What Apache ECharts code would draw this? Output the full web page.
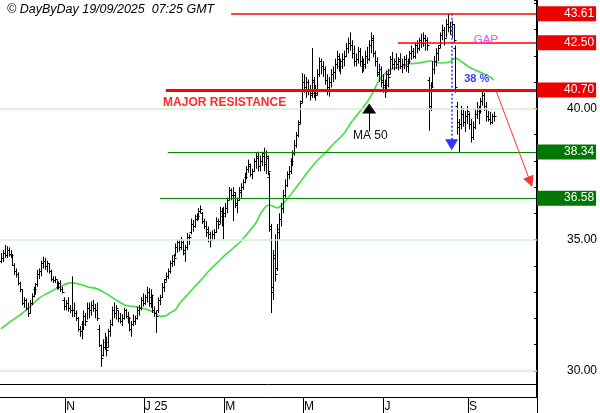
<!DOCTYPE html>
<html><head><meta charset="utf-8">
<script src="https://cdn.jsdelivr.net/npm/echarts@6/dist/echarts.min.js"></script>
<style>html,body{margin:0;padding:0;background:#fff}#c{width:600px;height:413px}</style>
</head><body><div id="c"></div>
<script>
const FONT = 'Arial, "Liberation Sans", sans-serif';
const titleText = '\u00a9 DayByDay 19/09/2025  07:25 GMT';
const startDate = '2024-09-16';
const holidays = ['2024-12-25','2024-12-26','2025-01-01','2025-04-18','2025-04-21','2025-05-01'];
const slotCount = 280;
const tickMonths = ['2024-11','2025-01','2025-03','2025-05','2025-07','2025-09'];
const tickLabels = ['N','J 25','M','M','J','S'];

const opens = [
34.2,34.3,34.5,34.4,34.6,34.45,34.4,34.05,33.8,33.7,
33.35,33.1,32.6,32.7,32.4,32.2,32.6,32.85,33.1,33.3,
33.7,33.8,34.1,34.2,34.0,34.1,33.8,33.5,33.45,33.5,
33.2,33.35,33.1,32.7,32.45,32.6,32.4,32.3,32.3,32.2,
32.0,31.6,31.5,31.8,32.1,31.9,32.4,32.3,32.5,32.4,
32.3,31.6,31.0,30.6,30.9,31.1,30.9,31.5,31.8,32.3,
32.2,32.3,32.0,31.9,32.0,32.3,32.1,32.0,31.6,31.8,
31.9,32.0,32.3,32.4,32.7,32.6,32.8,33.0,32.6,32.8,
32.3,32.2,32.3,32.7,32.8,33.2,33.5,33.6,33.8,34.1,
34.2,34.4,34.7,34.9,34.7,34.9,34.5,34.7,35.1,35.3,
35.6,35.5,35.8,35.9,36.1,36.0,35.7,35.5,35.4,35.2,
35.0,35.2,35.3,35.7,35.7,36.1,35.9,36.0,36.2,36.6,
36.9,36.7,36.7,36.3,36.5,36.8,37.0,37.2,37.4,37.7,
37.8,37.5,37.6,38.0,38.2,37.8,38.0,38.3,37.9,38.1,
37.4,35.4,33.0,34.4,33.9,35.4,35.8,36.2,36.7,37.1,
37.5,37.6,38.0,38.3,38.6,39.0,39.5,40.3,41.0,40.8,
41.0,40.7,40.6,41.1,40.6,40.6,41.3,41.8,41.6,41.5,
41.1,40.8,41.0,41.3,41.4,41.7,41.9,41.6,41.8,41.9,
42.0,42.3,42.5,42.4,42.1,41.8,41.9,42.2,41.8,41.6,
41.7,42.0,41.9,42.4,42.7,42.1,41.8,41.3,41.5,41.1,
40.9,40.8,41.3,41.3,41.9,41.7,41.8,41.7,41.9,41.6,
41.7,41.9,41.6,41.8,42.1,42.2,42.0,42.4,42.3,42.6,
42.5,42.7,42.6,41.1,40.1,40.9,41.5,41.8,42.1,42.4,
42.8,43.0,42.7,43.2,43.1,43.0,43.2,42.3,40.1,39.5,
39.4,39.8,39.5,39.7,39.8,39.4,38.9,39.3,39.8,40.0,
39.9,40.3,40.5,40.1,39.7,39.6,39.5,39.7];
const highs = [
34.5,34.6,34.8,34.75,34.7,34.6,34.45,34.1,33.9,33.75,
33.4,33.1,32.8,32.75,32.6,32.7,32.95,33.2,33.35,33.85,
33.9,34.2,34.35,34.3,34.2,34.1,33.85,33.6,33.6,33.45,
33.4,33.45,33.2,32.8,32.7,32.8,32.5,33.6,32.6,32.3,
32.05,31.7,31.9,32.3,32.2,32.6,32.6,32.65,32.7,32.55,
32.6,31.75,31.0,31.2,31.45,31.3,31.6,31.95,32.45,32.6,
32.5,32.3,32.2,32.15,32.4,32.35,32.25,32.05,31.9,32.15,
32.1,32.45,32.5,32.8,32.95,32.9,33.2,33.15,33.1,32.9,
32.45,32.3,32.8,32.9,33.35,33.5,33.75,33.9,34.2,34.4,
34.45,34.85,35.0,35.0,35.1,35.0,34.8,35.25,35.2,35.8,
35.75,35.95,36.0,36.2,36.3,36.05,35.8,35.7,35.5,35.3,
35.35,35.4,35.85,35.8,36.25,36.2,36.25,36.4,36.6,37.0,
36.95,37.0,36.8,36.6,37.0,37.15,37.3,37.55,37.8,38.05,
37.9,37.7,38.1,38.3,38.35,38.2,38.35,38.5,38.4,38.2,
37.55,35.6,34.6,35.2,35.6,36.0,36.4,36.9,37.3,37.6,
37.8,38.1,38.4,38.8,39.1,39.55,40.3,41.35,41.3,41.2,
41.1,40.9,42.3,41.2,40.9,41.5,41.95,41.9,41.8,41.6,
41.3,41.2,41.5,41.6,41.9,42.2,42.1,41.9,42.1,42.2,
42.5,42.7,42.9,42.6,42.4,42.1,42.35,42.3,42.0,41.9,
42.2,42.35,42.6,42.9,42.8,42.2,41.95,41.7,41.6,41.3,
41.1,41.45,41.5,42.0,42.15,41.9,42.1,41.95,42.1,41.9,
42.0,42.05,41.9,42.2,42.4,42.3,42.5,42.6,42.7,42.85,
42.9,42.8,42.7,41.2,41.0,41.8,42.0,42.3,42.4,42.9,
43.2,43.1,43.4,43.61,43.3,43.35,43.2,42.4,40.25,39.6,
40.1,40.0,39.9,40.1,39.85,39.6,39.5,40.0,40.25,40.1,
40.4,40.7,40.6,40.25,39.9,39.87,39.8,39.87];
const lows = [
34.1,34.15,34.3,34.3,34.35,34.3,34.0,33.65,33.55,33.25,
33.0,32.5,32.4,32.3,32.05,32.2,32.5,32.8,32.9,33.2,
33.5,33.6,33.9,33.85,33.75,33.7,33.4,33.35,33.35,33.1,
33.1,33.0,32.95,32.3,32.3,32.25,32.2,32.05,32.05,31.9,
31.5,31.3,31.2,31.55,31.7,31.95,32.0,32.1,32.25,32.0,
31.9,30.9,30.15,30.55,30.8,30.55,30.9,31.3,31.7,32.0,
31.95,31.85,31.8,31.7,31.95,32.0,31.8,31.5,31.3,31.7,
31.75,31.95,32.1,32.3,32.45,32.5,32.6,32.45,32.4,32.2,
32.05,31.45,32.2,32.5,32.8,33.0,33.4,33.5,33.7,33.95,
34.0,34.35,34.5,34.55,34.6,34.4,34.15,34.6,34.8,35.2,
35.3,35.45,35.7,35.75,36.0,35.6,35.4,35.1,34.9,34.7,
35.0,35.0,35.25,35.4,35.6,35.5,35.0,35.85,36.0,36.5,
36.5,35.7,36.2,36.0,36.5,36.6,36.9,37.15,37.3,37.55,
37.4,37.3,37.6,37.7,37.6,37.6,37.8,37.6,37.5,37.45,
35.3,32.2,32.7,33.4,33.8,35.0,35.5,36.0,36.6,37.0,
37.3,37.5,37.8,38.2,38.5,38.9,39.4,40.2,40.6,40.4,
40.5,40.3,40.4,40.4,40.3,40.5,41.2,41.3,41.2,40.9,
40.5,40.45,40.8,41.0,41.1,41.5,41.4,41.3,41.5,41.6,
41.95,42.1,42.2,41.9,41.6,41.6,41.7,41.6,41.35,41.4,
41.5,41.7,41.8,42.1,41.95,41.6,41.2,41.0,40.8,40.6,
40.4,40.6,40.8,41.3,41.5,41.45,41.5,41.45,41.5,41.35,
41.5,41.4,41.35,41.7,41.85,41.9,41.9,42.1,42.2,42.3,
42.35,42.2,42.2,39.15,39.9,40.8,41.3,41.6,41.8,42.3,
42.6,42.4,42.7,42.9,42.8,42.7,42.5,40.6,39.0,38.34,
39.2,39.3,39.1,39.4,39.2,38.7,38.8,39.2,39.6,39.4,
39.8,40.1,39.9,39.5,39.5,39.37,39.4,39.5];
const closes = [
34.3,34.5,34.4,34.6,34.45,34.4,34.05,33.8,33.7,33.35,
33.1,32.6,32.7,32.4,32.2,32.6,32.85,33.1,33.3,33.7,
33.8,34.1,34.2,34.0,34.1,33.8,33.5,33.45,33.5,33.2,
33.35,33.1,33.0,32.45,32.6,32.4,32.3,32.3,32.2,32.0,
31.6,31.5,31.8,32.1,31.9,32.4,32.3,32.5,32.4,32.3,
32.0,31.0,30.5,30.9,31.1,30.8,31.5,31.8,32.3,32.2,
32.4,32.0,31.9,32.0,32.3,32.1,32.0,31.6,31.8,31.9,
32.0,32.3,32.4,32.7,32.6,32.8,33.0,32.6,32.9,32.3,
32.2,32.1,32.7,32.8,33.2,33.4,33.6,33.8,34.1,34.2,
34.3,34.7,34.9,34.7,34.9,34.6,34.7,35.1,35.1,35.6,
35.5,35.8,35.9,36.1,36.15,35.7,35.5,35.3,35.2,35.0,
35.2,35.3,35.7,35.6,36.1,35.9,36.0,36.2,36.5,36.9,
36.7,36.8,36.4,36.5,36.9,37.0,37.2,37.4,37.7,37.9,
37.5,37.6,38.0,38.1,37.8,38.0,38.2,37.9,38.2,37.6,
35.5,33.2,34.3,33.7,35.3,35.8,36.2,36.7,37.1,37.5,
37.6,38.0,38.3,38.6,39.0,39.4,40.2,41.0,40.8,41.0,
40.7,40.5,41.0,40.6,40.5,41.3,41.8,41.6,41.5,41.1,
40.8,41.0,41.3,41.4,41.7,42.0,41.6,41.8,41.9,42.0,
42.3,42.5,42.4,42.1,41.8,41.9,42.2,41.8,41.6,41.7,
42.0,41.9,42.4,42.6,42.1,41.8,41.4,41.5,41.0,40.9,
40.9,41.3,41.2,41.9,41.7,41.8,41.7,41.8,41.6,41.7,
41.9,41.6,41.8,42.1,42.2,42.0,42.4,42.3,42.6,42.5,
42.7,42.6,42.4,40.0,40.8,41.5,41.8,42.1,42.3,42.8,
43.0,42.7,43.2,43.1,43.0,43.2,42.6,40.8,39.3,39.4,
39.8,39.5,39.7,39.9,39.4,38.9,39.3,39.8,40.0,39.9,
40.3,40.5,40.1,39.7,39.6,39.5,39.7,39.7];

const maIdx = [0,5,10,15,20,26,31,36,41,46,49,54,60,65,70,75,80,83,86,88,91,93,97,101,105,109,113,117,121,125,130,133,135,138,140,144,148,153,158,164,169,174,179,182,187,192,198,203,208,213,218,224,229,234,237,239,244,250,255,257];
const maVal = [31.6,31.88,32.13,32.44,32.77,33.02,33.2,33.35,33.3,33.18,33.15,32.98,32.7,32.5,32.44,32.36,32.22,32.08,32.1,32.2,32.33,32.55,32.88,33.2,33.52,33.85,34.13,34.42,34.67,34.93,35.37,35.64,35.94,36.25,36.32,36.21,36.44,36.9,37.39,37.94,38.3,38.69,39.05,39.4,39.87,40.36,41.16,41.47,41.58,41.7,41.73,41.81,41.73,41.77,41.92,41.85,41.58,41.38,41.2,41.09];

const levelValues = [43.61, 42.50, 40.70, 38.34, 36.58];
const levelStartIdx = [120, 207, 86, 87, 83];
const levelKinds = ['red', 'red', 'redThick', 'green', 'green'];
const gridValues = [30, 35, 40];

// categories: trading days
const categories = [];
(function(){
  const d = new Date(startDate + 'T12:00:00Z');
  while (categories.length < slotCount) {
    const dow = d.getUTCDay();
    const s = d.toISOString().slice(0, 10);
    if (dow !== 0 && dow !== 6 && holidays.indexOf(s) < 0) categories.push(s);
    d.setUTCDate(d.getUTCDate() + 1);
  }
})();
const tickIndex = {};
tickMonths.forEach((m, k) => { const i = categories.findIndex(c => c.startsWith(m)); tickIndex[i] = tickLabels[k]; });
const lastIdx = slotCount - 1;

const levelLines = levelValues.map((v, k) => {
  const red = levelKinds[k] !== 'green';
  const col = red ? '#ff0000' : '#008800';
  const box = red ? '#ee0000' : '#007700';
  const ls = { color: col, width: levelKinds[k] === 'redThick' ? 3 : (red ? 1.5 : 1.2), type: 'solid' };
  const lab = { show: true, position: 'end', distance: 1, formatter: v.toFixed(2), color: '#fff',
    backgroundColor: box, fontSize: 12, fontFamily: FONT, padding: [1, 2, 1, 27], lineHeight: 13 };
  return [
    { coord: [categories[levelStartIdx[k]], v], symbol: 'none', lineStyle: ls, label: lab },
    { coord: [categories[lastIdx], v], symbol: 'none', lineStyle: ls, label: lab }
  ];
});
const noLab = { show: false };
const gridLines = gridValues.map(v => ({ yAxis: v, symbol: 'none', lineStyle: { color: '#d2f2d2', width: 1.5, type: 'solid' }, label: noLab }));
const frameLine = { yAxis: 29.47, symbol: 'none', lineStyle: { color: '#000', width: 1, type: 'solid' }, label: noLab };

const arrowRed = [
  { coord: [categories[258], 40.70], symbol: 'none', lineStyle: { color: '#ff3333', width: 1, type: 'solid' }, label: noLab },
  { coord: [categories[276], 37.2], symbol: 'triangle', symbolSize: [11, 11], itemStyle: { color: '#ff2222' }, lineStyle: { color: '#ff3333', width: 1, type: 'solid' }, label: noLab }
];
const arrowBlue = [
  { coord: [categories[235], 43.61], symbol: 'none', lineStyle: { color: '#3333ff', width: 1.5, type: [2, 2] }, label: noLab },
  { coord: [categories[235], 38.62], symbol: 'triangle', symbolSize: [13, 11], itemStyle: { color: '#2222ff' }, lineStyle: { color: '#3333ff', width: 1.5, type: [2, 2] }, label: noLab }
];
const arrowMA = [
  { coord: [categories[192], 39.12], symbol: 'none', lineStyle: { color: '#000', width: 1, type: 'solid' }, label: noLab },
  { coord: [categories[192], 40.0], symbol: 'triangle', symbolSize: [14, 10], itemStyle: { color: '#000' }, lineStyle: { color: '#000', width: 1, type: 'solid' }, label: noLab }
];

function txt(i, v, s, color, size, weight) {
  return { coord: [categories[i], v], symbol: 'circle', symbolSize: 0, itemStyle: { color: 'transparent' },
    label: { show: true, position: 'right', distance: 1, formatter: s, color: color, fontSize: size, fontWeight: weight, fontFamily: FONT } };
}
const notes = [
  txt(84, 40.21, 'MAJOR RESISTANCE', '#ff2a2a', 12, 'bold'),
  txt(246, 42.63, 'GAP', '#ff44ff', 11.5, 'normal'),
  txt(241, 41.12, '38 %', '#3a3aff', 11, 'bold'),
  txt(183, 38.95, 'MA 50', '#111', 12, 'normal')
];

const chart = echarts.init(document.getElementById('c'), null, { renderer: 'canvas' });
chart.setOption({
  animation: false,
  backgroundColor: '#ffffff',
  title: { text: titleText, left: 2, top: -2, textStyle: { fontStyle: 'italic', fontWeight: 'normal', fontSize: 12.5, color: '#000', fontFamily: FONT } },
  grid: { left: 0, top: 0, width: 537, height: 397.25 },
  xAxis: {
    type: 'category', data: categories, boundaryGap: true,
    axisLine: { lineStyle: { color: '#000', width: 1 } },
    axisTick: { show: true, interval: (i) => (i in tickIndex), length: 16, alignWithLabel: false, lineStyle: { color: '#000' } },
    axisLabel: { interval: (i) => (i in tickIndex), formatter: (v, i) => tickIndex[i] || '', align: 'left', margin: 4, fontSize: 12, color: '#000', fontFamily: FONT },
    splitLine: { show: false }
  },
  yAxis: {
    type: 'value', position: 'right', min: 29, max: 44.133, interval: 1,
    axisLine: { show: true, lineStyle: { color: '#000', width: 2 } },
    axisTick: { show: true, inside: true, length: 3, lineStyle: { color: '#000' } },
    axisLabel: { formatter: (v) => (Math.abs(v % 5) < 1e-6 ? v.toFixed(2) : ''), align: 'right', margin: 60, fontSize: 12, color: '#000', fontFamily: FONT },
    splitLine: { show: false }
  },
  series: [
    {
      type: 'line', name: 'MA 50', z: 2,
      data: maIdx.map((i, k) => [i, maVal[k]]),
      smooth: 0.3, symbol: 'none',
      lineStyle: { color: '#3fe03f', width: 1.6 },
      markLine: {
        silent: true, symbol: 'none', animation: false,
        data: [].concat(gridLines, [frameLine], levelLines, [arrowRed, arrowBlue, arrowMA])
      },
      markPoint: { silent: true, animation: false, data: notes }
    },
    {
      type: 'custom', name: 'price', z: 3,
      data: highs.map((h, i) => [i, lows[i], highs[i], opens[i], closes[i]]),
      encode: { x: 0, y: [1, 2] },
      renderItem: function (params, api) {
        const i = api.value(0);
        const pL = api.coord([i, api.value(1)]);
        const pH = api.coord([i, api.value(2)]);
        const pO = api.coord([i, api.value(3)]);
        const pC = api.coord([i, api.value(4)]);
        const x = Math.round(pL[0]) + 0.5;
        const yo = Math.round(pO[1]) + 0.5;
        const yc = Math.round(pC[1]) + 0.5;
        const st = { stroke: '#000', lineWidth: 1 };
        return { type: 'group', children: [
          { type: 'line', shape: { x1: x, y1: pH[1], x2: x, y2: pL[1] }, style: st },
          { type: 'line', shape: { x1: x - 2, y1: yo, x2: x, y2: yo }, style: st },
          { type: 'line', shape: { x1: x, y1: yc, x2: x + 2, y2: yc }, style: st }
        ] };
      }
    }
  ]
});
</script></body></html>
